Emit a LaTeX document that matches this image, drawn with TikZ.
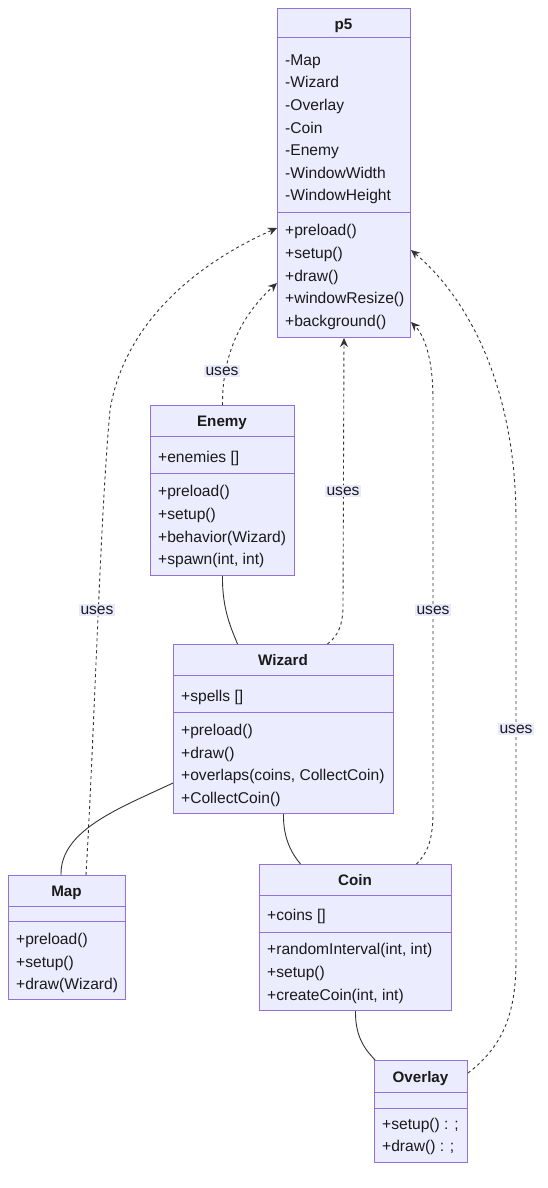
\documentclass[tikz,border=0pt]{standalone}
\usepackage{fontspec}
\setmainfont{Liberation Sans}
\usetikzlibrary{arrows.meta,calc}
\definecolor{boxfill}{HTML}{ECECFF}
\definecolor{boxline}{HTML}{9370DB}
\definecolor{edge}{HTML}{333333}
\definecolor{txtc}{HTML}{1A1A1A}
\definecolor{lblfill}{HTML}{E8E8FF}
\tikzset{
  umlbox/.style={draw=boxline, fill=boxfill, line width=1pt, inner sep=0pt, anchor=north west},
  divider/.style={draw=boxline, line width=1pt},
  member/.style={anchor=base west, inner sep=0pt, yshift=-5.5pt, text=txtc, font=\fontsize{15.6}{17}\selectfont},
  title/.style={anchor=base, inner sep=0pt, yshift=-5.5pt, text=txtc, font=\fontsize{15.2}{17}\selectfont\bfseries},
  uses/.style={draw=edge, line width=0.9pt, dash pattern=on 3pt off 3pt, -{Stealth[length=9pt,width=8pt,inset=3pt]}},
  assoc/.style={draw=edge, line width=0.9pt},
  lbl/.style={fill=lblfill, fill opacity=0.9, text opacity=1, inner sep=1.5pt, text=txtc, font=\fontsize{15.6}{17}\selectfont}
}
\begin{document}
\begin{tikzpicture}[x=1pt,y=-1pt]
\useasboundingbox (0,0) rectangle (547,1188);

% ---- p5
\node[umlbox, minimum width=133pt, minimum height=329pt] (p5) at (277,8) {};
\draw[divider] (277,38) -- (410,38);
\draw[divider] (277,212) -- (410,212);
\node[title] (p5t) at (343.5,24) {p5};
\node[member] (p5a1) at (285,60) {-Map};
\node[member] (p5a2) at (285,82.5) {-Wizard};
\node[member] (p5a3) at (285,105) {-Overlay};
\node[member] (p5a4) at (285,127.5) {-Coin};
\node[member] (p5a5) at (285,150) {-Enemy};
\node[member] (p5a6) at (285,172.5) {-WindowWidth};
\node[member] (p5a7) at (285,195) {-WindowHeight};
\node[member] (p5m1) at (285,229.5) {+preload()};
\node[member] (p5m2) at (285,252.5) {+setup()};
\node[member] (p5m3) at (285,275.5) {+draw()};
\node[member] (p5m4) at (285,298) {+windowResize()};
\node[member] (p5m5) at (285,321) {+background()};

% ---- Enemy
\node[umlbox, minimum width=144pt, minimum height=170pt] (enemy) at (150,405) {};
\draw[divider] (150,436) -- (294,436);
\draw[divider] (150,473) -- (294,473);
\node[title] (enemyt) at (222,421) {Enemy};
\node[member] (ena1) at (158,457) {+enemies []};
\node[member] (enm1) at (158,490.5) {+preload()};
\node[member] (enm2) at (158,513.5) {+setup()};
\node[member] (enm3) at (158,536.5) {+behavior(Wizard)};
\node[member] (enm4) at (158,559) {+spawn(int, int)};

% ---- Wizard
\node[umlbox, minimum width=220pt, minimum height=169pt] (wizard) at (173,644) {};
\draw[divider] (173,675) -- (393,675);
\draw[divider] (173,712) -- (393,712);
\node[title] (wizardt) at (283,660) {Wizard};
\node[member] (wza1) at (181,695.5) {+spells []};
\node[member] (wzm1) at (181,729.5) {+preload()};
\node[member] (wzm2) at (181,752.5) {+draw()};
\node[member] (wzm3) at (181,775) {+overlaps(coins, CollectCoin)};
\node[member] (wzm4) at (181,798) {+CollectCoin()};

% ---- Map
\node[umlbox, minimum width=117pt, minimum height=124pt] (map) at (8,875) {};
\draw[divider] (8,906) -- (125,906);
\draw[divider] (8,921) -- (125,921);
\node[title] (mapt) at (66.5,891) {Map};
\node[member] (mpm1) at (16,938.5) {+preload()};
\node[member] (mpm2) at (16,961.5) {+setup()};
\node[member] (mpm3) at (16,984) {+draw(Wizard)};

% ---- Coin
\node[umlbox, minimum width=192pt, minimum height=146pt] (coin) at (259,864) {};
\draw[divider] (259,895) -- (451,895);
\draw[divider] (259,932) -- (451,932);
\node[title] (cointt) at (355,880) {Coin};
\node[member] (cna1) at (267,914.5) {+coins []};
\node[member] (cnm1) at (267,949) {+randomInterval(int, int)};
\node[member] (cnm2) at (267,972) {+setup()};
\node[member] (cnm3) at (267,995) {+createCoin(int, int)};

% ---- Overlay
\node[umlbox, minimum width=93pt, minimum height=102pt] (overlay) at (374,1060) {};
\draw[divider] (374,1092) -- (467,1092);
\draw[divider] (374,1108) -- (467,1108);
\node[title] (overlayt) at (420.5,1077) {Overlay};
\node[member] (ovm1) at (382,1123.5) {+setup() : ;};
\node[member] (ovm2) at (382,1146) {+draw() : ;};

% ---- dependency edges (uses)
\draw[uses] (enemy.north) .. controls (222,350) and (245,312) .. ([yshift=-275pt]p5.north west);
\node[lbl] (l1) at (222,371) {uses};

\draw[uses] ([xshift=19pt]map.north) .. controls (95,720) and (100,520) .. (110,410)
  .. controls (125,320) and (200,262) .. ([yshift=-220pt]p5.north west);
\node[lbl] (l2) at (97,610) {uses};

\draw[uses] ([xshift=44pt]wizard.north) .. controls (338,636) and (343,625) .. (343,605) -- (p5.south);
\node[lbl] (l3) at (343,491) {uses};

\draw[uses] ([xshift=61pt]coin.north) .. controls (428,852) and (433,840) .. (433,810) -- (433,400)
  .. controls (433,360) and (425,336) .. ([yshift=-314pt]p5.north east);
\node[lbl] (l4) at (433,610) {uses};

\draw[uses] ([yshift=-13pt]overlay.north east) .. controls (505,1045) and (516,1010) .. (516,960) -- (516,520)
  .. controls (516,390) and (470,300) .. ([yshift=-242pt]p5.north east);
\node[lbl] (l5) at (516,729) {uses};

% ---- associations
\draw[assoc] (enemy.south) .. controls (222,610) and (232,630) .. ([xshift=-46pt]wizard.north);
\draw[assoc] ([yshift=-139pt]wizard.north west) .. controls (120,808) and (60,830) .. ([xshift=-6pt]map.north);
\draw[assoc] (wizard.south) .. controls (283,840) and (293,855) .. ([xshift=-55pt]coin.north);
\draw[assoc] (coin.south) .. controls (355,1040) and (368,1052) .. ([xshift=1pt]overlay.north west);
\end{tikzpicture}
\end{document}
